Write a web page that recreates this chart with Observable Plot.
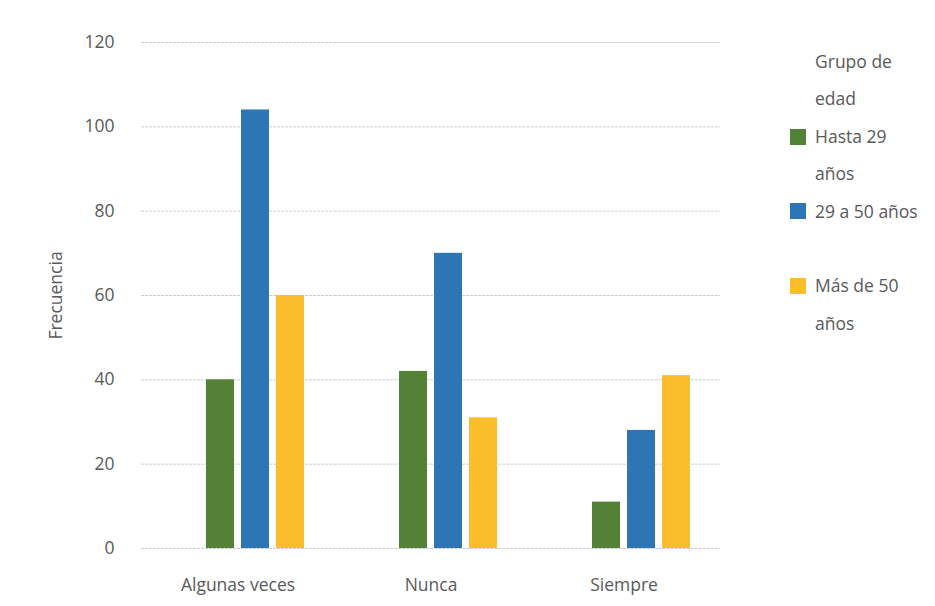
<!DOCTYPE html>
<html><head><meta charset="utf-8">
<script src="https://cdn.jsdelivr.net/npm/d3@7"></script>
<script src="https://cdn.jsdelivr.net/npm/@observablehq/plot@0.6"></script>
<style>
body{margin:0;background:#fff;font-family:"Open Sans",sans-serif;}
#wrap{position:relative;width:935px;height:606px;}
#legend{position:absolute;left:790px;top:43px;color:#595959;font-size:17.5px;line-height:37.4px;font-family:"Open Sans",sans-serif;}
.row{position:relative;padding-left:25px;white-space:pre-line;}
.sw{position:absolute;left:0;top:10.7px;width:16px;height:16px;}
</style></head>
<body><div id="wrap"><div id="chart"></div><div id="legend"></div></div>
<script>
const categories = ["Algunas veces", "Nunca", "Siempre"];
const series = ["Hasta 29 años", "29 a 50 años", "Más de 50 años"];
const hasta29 = [40, 42, 11];
const de29a50 = [104, 70, 28];
const mas50 = [60, 31, 41];
const colors = ["#538135", "#2E75B6", "#FBBD2B"];
const yTicks = [0, 20, 40, 60, 80, 100, 120];
const legendTitle = "Grupo de\nedad";
const legendLines = ["Hasta 29\naños", "29 a 50 años", "", "Más de 50\naños"];

const values = [hasta29, de29a50, mas50];
const data = [];
categories.forEach((c, i) => series.forEach((s, j) => data.push({cat: c, series: s, value: values[j][i]})));

const chart = Plot.plot({
  width: 935, height: 606,
  marginLeft: 140, marginRight: 215, marginTop: 42, marginBottom: 58,
  style: {fontSize: "17.5px", fontFamily: "'Open Sans', sans-serif", color: "#595959", background: "#fff"},
  fx: {domain: categories, padding: 0, label: null},
  x: {domain: ["", ...series], axis: null, paddingInner: 0.19, paddingOuter: 0.83},
  y: {domain: [0, 120]},
  color: {domain: series, range: colors},
  marks: [
    Plot.gridY(yTicks, {stroke: "#cfcfcf", strokeOpacity: 1, strokeDasharray: "3,1"}),
    Plot.barY(data, {fx: "cat", x: "series", y: "value", fill: "series"}),
    Plot.axisY(yTicks, {tickSize: 0, tickPadding: 27, label: "Frecuencia", labelAnchor: "center", labelArrow: "none", labelOffset: 92, fontSize: 17.5}),
    Plot.axisFx({anchor: "bottom", tickSize: 0, tickPadding: 30, label: null, fontSize: 17.5})
  ]
});
document.getElementById("chart").appendChild(chart);

const lg = document.getElementById("legend");
const t = document.createElement("div"); t.className = "row"; t.textContent = legendTitle; lg.appendChild(t);
legendLines.forEach((txt, i) => {
  const r = document.createElement("div"); r.className = "row";
  if (txt === "") { r.innerHTML = "&nbsp;"; lg.appendChild(r); return; }
  const sIdx = i < 2 ? i : i - 1;
  const sw = document.createElement("div"); sw.className = "sw"; sw.style.background = colors[sIdx];
  r.appendChild(sw);
  r.appendChild(document.createTextNode(txt));
  lg.appendChild(r);
});
</script></body></html>
